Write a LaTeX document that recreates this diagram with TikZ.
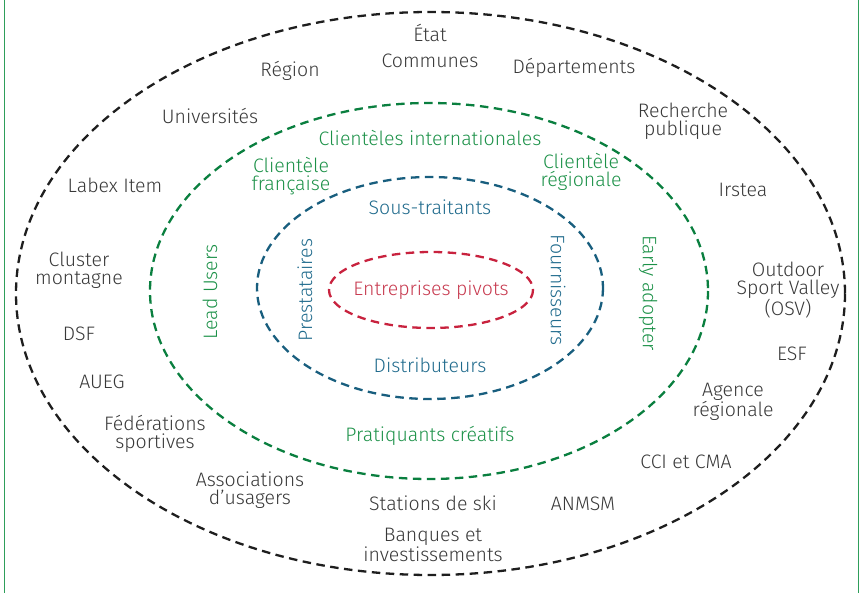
\documentclass[tikz,border=0pt]{standalone}
\usepackage{fontspec}
\setmainfont{Fira Sans}[UprightFont={* Light}]
\definecolor{ringblack}{HTML}{1E1E1E}
\definecolor{ringgreen}{HTML}{0A7F3F}
\definecolor{txtgreen}{HTML}{1C9148}
\definecolor{ringblue}{HTML}{185E7E}
\definecolor{txtblue}{HTML}{1F6A8C}
\definecolor{ringred}{HTML}{C8223E}
\definecolor{txtred}{HTML}{C73A4F}
\definecolor{txtgray}{HTML}{383838}
\definecolor{framegreen}{HTML}{2E9E5A}
\tikzset{
  ring/.style={dashed, dash pattern=on 8.5pt off 5.5pt, line width=2.3pt},
  label text/.style={font=\fontsize{19.5}{18}\selectfont, align=center, inner sep=0pt},
  actor/.style={label text, text=txtgray},
  client/.style={label text, text=txtgreen},
  partner/.style={label text, text=txtblue},
  core/.style={label text, text=txtred},
}
\begin{document}
\begin{tikzpicture}[x=1pt, y=-1pt]
\useasboundingbox (0,0) rectangle (868,593);
% frame sides
\draw[framegreen, line width=1.6pt] (4.5,0) -- (4.5,593);
\draw[framegreen, line width=1.6pt] (858.5,0) -- (858.5,593);

% nested rings
\draw[ring, ringblack] (430.5,293.5) ellipse [x radius=414.5, y radius=281.5];
\draw[ring, ringgreen] (429,291) ellipse [x radius=279, y radius=188];
\draw[ring, ringblue] (430,288) ellipse [x radius=173, y radius=111];
\draw[ring, ringred] (431,290) ellipse [x radius=102, y radius=38];

% core
\node[core] (pivots) at (431,290) {Entreprises pivots};

% partners ring
\node[partner] (soustraitants) at (430,207) {Sous-traitants};
\node[partner] (distributeurs) at (430,365) {Distributeurs};
\node[partner, rotate=90] (prestataires) at (305,290) {Prestataires};
\node[partner, rotate=-90] (fournisseurs) at (558,290) {Fournisseurs};

% clients ring
\node[client] (internationales) at (430,138) {Clientèles internationales};
\node[client] (francaise) at (291,176) {Clientèle\\française};
\node[client] (regionale) at (581,172) {Clientèle\\régionale};
\node[client, rotate=90] (leadusers) at (210,292) {Lead Users};
\node[client, rotate=-90] (earlyadopter) at (648,293) {Early adopter};
\node[client] (pratiquants) at (430,436) {Pratiquants créatifs};

% institutional actors
\node[actor] (etat) at (430,33) {État};
\node[actor] (communes) at (430,61) {Communes};
\node[actor] (region) at (290,71) {Région};
\node[actor] (departements) at (574,68) {Départements};
\node[actor] (universites) at (210,116) {Universités};
\node[actor] (recherche) at (683,121) {Recherche\\publique};
\node[actor] (labex) at (115,185) {Labex Item};
\node[actor] (irstea) at (743,190) {Irstea};
\node[actor] (cluster) at (79,270) {Cluster\\montagne};
\node[actor] (osv) at (788,290) {Outdoor\\Sport Valley\\(OSV)};
\node[actor] (dsf) at (79,334) {DSF};
\node[actor] (esf) at (792,354) {ESF};
\node[actor] (aueg) at (102,382) {AUEG};
\node[actor] (agence) at (733,402) {Agence\\régionale};
\node[actor] (federations) at (155,434) {Fédérations\\sportives};
\node[actor] (cci) at (686,462) {CCI et CMA};
\node[actor] (associations) at (250,490) {Associations\\d’usagers};
\node[actor] (stations) at (433,503) {Stations de ski};
\node[actor] (anmsm) at (583,504) {ANMSM};
\node[actor] (banques) at (433,545) {Banques et\\investissements};
\end{tikzpicture}
\end{document}
